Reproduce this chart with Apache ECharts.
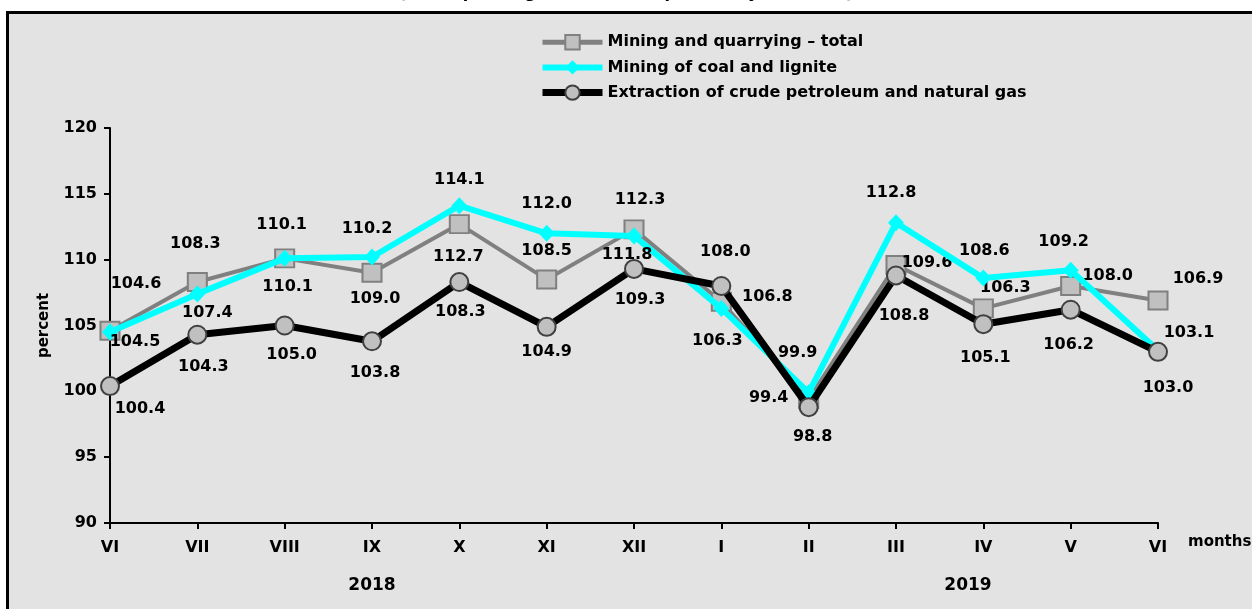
<!DOCTYPE html>
<html>
<head>
<meta charset="utf-8">
<script src="https://cdn.jsdelivr.net/npm/echarts@6/dist/echarts.min.js"></script>
<style>
  html, body { margin: 0; padding: 0; background: #ffffff; overflow: hidden; }
  #frame { position: absolute; left: 6px; top: 11px; width: 1280px; height: 640px; border: 3px solid #000; background: #e3e3e3; box-sizing: border-box; }
  #chart { position: absolute; left: 0; top: 0; width: 1252px; height: 609px; }
</style>
</head>
<body>
<div id="frame"></div>
<div id="chart"></div>
<script>
// ---- data ----
const categories = ['VI','VII','VIII','IX','X','XI','XII','I','II','III','IV','V','VI'];
const seriesNames = ['Mining and quarrying \u2013 total', 'Mining of coal and lignite', 'Extraction of crude petroleum and natural gas'];
const total  = [104.6,108.3,110.1,109.0,112.7,108.5,112.3,106.8,99.4,109.6,106.3,108.0,106.9];
const coal   = [104.5,107.4,110.1,110.2,114.1,112.0,111.8,106.3,99.9,112.8,108.6,109.2,103.1];
const oilGas = [100.4,104.3,105.0,103.8,108.3,104.9,109.3,108.0,98.8,108.8,105.1,106.2,103.0];
const yTicks = [90,95,100,105,110,115,120];
const years = ['2018','2019'];

// ---- label placement (style only) ----
const totalOff  = [[26,-47],[-2,-38],[3,28],[3,26],[-1,33],[0,-29],[6,-30],[46,-5],[-40,-1],[31,-2],[22,-21],[37,-10],[40,-22]];
const coalOff   = [[25,10],[10,19],[-3,-34],[-5,-28],[0,-26],[0,-29],[-7,19],[-4,32],[-11,-40],[-5,-30],[1,-27],[-7,-28],[31,-18]];
const oilOff    = [[30,23],[6,32],[7,29],[3,32],[1,30],[0,25],[6,31],[4,-34],[4,30],[8,40],[2,34],[-2,35],[10,36]];

const FONT = 'DejaVu Sans';
const labelBase = { show: true, position: 'inside', color: '#000', fontFamily: FONT, fontWeight: 'bold', fontSize: 16,
  formatter: p => p.value.toFixed(1) };

function build(vals, offs) {
  return vals.map((v, i) => ({ value: v, label: { offset: offs[i] } }));
}

const chart = echarts.init(document.getElementById('chart'), null, { renderer: 'canvas' });
chart.setOption({
  backgroundColor: 'transparent',
  animation: false,
  title: {
    text: '(corresponding month of the previous year = 100)',
    left: 'center', top: -19,
    textStyle: { fontFamily: FONT, fontWeight: 'bold', fontSize: 16, color: '#000' }
  },
  legend: {
    orient: 'vertical', left: 534, top: 29, itemWidth: 60, itemHeight: 18, itemGap: 9,
    textStyle: { fontFamily: FONT, fontWeight: 'bold', fontSize: 16, color: '#000' },
    data: [
      { name: seriesNames[0], lineStyle: { width: 5, color: '#808080' } },
      { name: seriesNames[1], lineStyle: { width: 6, color: '#00ffff' } },
      { name: seriesNames[2], lineStyle: { width: 7, color: '#000000' } }
    ]
  },
  grid: { left: 110, right: 94, top: 128, bottom: 86 },
  xAxis: {
    type: 'category', data: categories, boundaryGap: false,
    axisLine: { lineStyle: { color: '#000', width: 2 } },
    axisTick: { show: true, length: 6, lineStyle: { color: '#000', width: 2 } },
    axisLabel: { margin: 17, color: '#000', fontFamily: FONT, fontWeight: 'bold', fontSize: 16, interval: 0 },
    splitLine: { show: false }
  },
  yAxis: {
    type: 'value', min: yTicks[0], max: yTicks[yTicks.length - 1], interval: 5,
    name: 'percent', nameLocation: 'middle', nameGap: 58, nameRotate: 90,
    nameTextStyle: { color: '#000', fontFamily: FONT, fontWeight: 'bold', fontSize: 15 },
    axisLine: { show: true, lineStyle: { color: '#000', width: 2 } },
    axisTick: { show: true, length: 6, lineStyle: { color: '#000', width: 2 } },
    axisLabel: { margin: 13, color: '#000', fontFamily: FONT, fontWeight: 'bold', fontSize: 16 },
    splitLine: { show: false }
  },
  graphic: [
    { type: 'text', left: 1188, top: 535, style: { text: 'months', fill: '#000', font: 'bold 15px "DejaVu Sans"' } },
    { type: 'text', x: 372, y: 586, style: { text: years[0], fill: '#000', font: 'bold 17px "DejaVu Sans"', textAlign: 'center', textVerticalAlign: 'middle' } },
    { type: 'text', x: 968, y: 586, style: { text: years[1], fill: '#000', font: 'bold 17px "DejaVu Sans"', textAlign: 'center', textVerticalAlign: 'middle' } }
  ],
  series: [
    {
      name: seriesNames[0], type: 'line', data: build(total, totalOff), z: 2,
      symbol: 'rect', symbolSize: [19, 18],
      lineStyle: { color: '#808080', width: 4 },
      itemStyle: { color: '#c0c0c0', borderColor: '#808080', borderWidth: 2 },
      label: labelBase
    },
    {
      name: seriesNames[1], type: 'line', data: build(coal, coalOff), z: 3,
      symbol: 'diamond', symbolSize: [16, 17],
      lineStyle: { color: '#00ffff', width: 6 },
      itemStyle: { color: '#00ffff', borderWidth: 0 },
      label: labelBase
    },
    {
      name: seriesNames[2], type: 'line', data: build(oilGas, oilOff), z: 4,
      symbol: 'circle', symbolSize: 18,
      lineStyle: { color: '#000000', width: 7 },
      itemStyle: { color: '#c0c0c0', borderColor: '#404040', borderWidth: 2 },
      label: labelBase
    }
  ]
});
</script>
</body>
</html>
